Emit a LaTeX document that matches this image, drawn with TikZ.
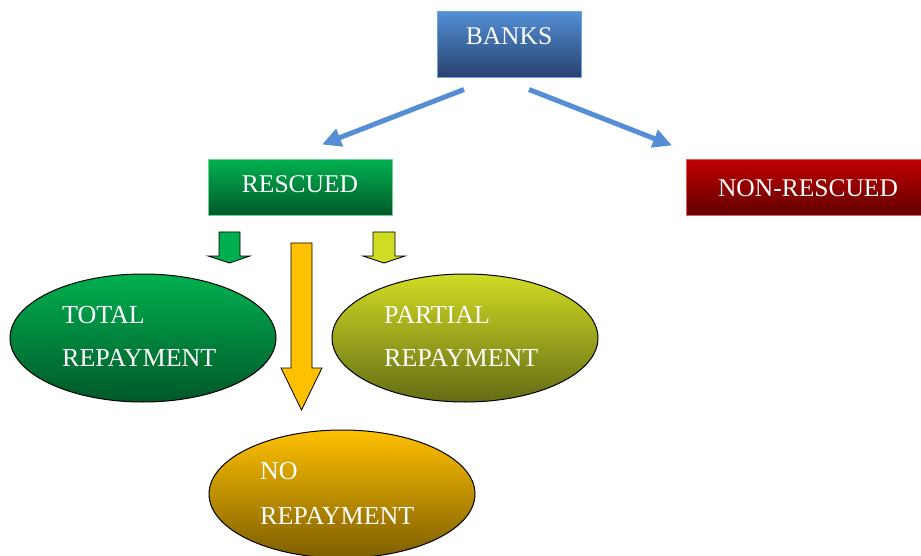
\documentclass[tikz,border=0pt]{standalone}
\usepackage{fontspec}
\setmainfont{Liberation Serif}
\usetikzlibrary{arrows.meta,shapes.geometric}
\definecolor{banktop}{RGB}{84,142,213}
\definecolor{bankbot}{RGB}{38,64,108}
\definecolor{bankline}{RGB}{110,160,225}
\definecolor{greentop}{RGB}{0,176,80}
\definecolor{greenbot}{RGB}{0,88,40}
\definecolor{greenline}{RGB}{110,210,150}
\definecolor{redtop}{RGB}{192,0,0}
\definecolor{redbot}{RGB}{96,0,0}
\definecolor{redline}{RGB}{230,90,90}
\definecolor{limetop}{RGB}{208,220,36}
\definecolor{limebot}{RGB}{100,108,20}
\definecolor{orangetop}{RGB}{255,192,0}
\definecolor{orangebot}{RGB}{125,94,0}
\definecolor{arrowblue}{RGB}{85,142,213}
\begin{document}
\begin{tikzpicture}[x=1pt,y=-1pt,
    box/.style={rectangle, minimum width=#1, minimum height=56pt, inner sep=0pt},
    boxtext/.style={text=white, font=\fontsize{25.5}{30}\selectfont},
    oval/.style={ellipse, draw=black, line width=1pt, minimum width=266pt,
        minimum height=128pt, inner sep=0pt},
    ovaltext/.style={anchor=base west, text=white, font=\fontsize{26}{30}\selectfont, inner sep=0pt},
    bluearrow/.style={draw=arrowblue, line width=5pt,
        -{Triangle[length=19pt,width=18pt]}},
    block/.style={draw=black, line width=0.8pt, line join=miter}]
    \useasboundingbox (0,0) rectangle (921,556);

    % top row
    \node[box=144pt, minimum height=66pt, top color=banktop, bottom color=bankbot,
        draw=bankline, line width=1pt] (banks) at (509,45) {};
    \node[boxtext] (bankstxt) at (509,36) {BANKS};
    \node[box=184pt, top color=greentop, bottom color=greenbot,
        draw=greenline, line width=1pt] (rescued) at (300,188) {};
    \node[boxtext] (rescuedtxt) at (300,184) {RESCUED};
    \node[box=240pt, top color=redtop, bottom color=redbot,
        draw=redline, line width=1pt] (nonrescued) at (806,188) {};
    \node[boxtext] (nonrescuedtxt) at (808,188) {NON-RESCUED};

    \draw[bluearrow] ([xshift=-45pt,yshift=-11pt]banks.south) -- ([xshift=22pt,yshift=15pt]rescued.north);
    \draw[bluearrow] ([xshift=20pt,yshift=-11pt]banks.south) -- ([xshift=-134pt,yshift=14pt]nonrescued.north);

    % outcomes
    \node[oval, top color=greentop, bottom color=greenbot] (total) at (143,338) {};
    \node[oval, top color=limetop, bottom color=limebot] (partial) at (465,338) {};
    \node[oval, top color=orangetop, bottom color=orangebot] (norepay) at (342,494) {};

    \node[ovaltext] (totala) at (62,323) {TOTAL};
    \node[ovaltext] (totalb) at (62,366) {REPAYMENT};
    \node[ovaltext] (partiala) at (384,323) {PARTIAL};
    \node[ovaltext] (partialb) at (384,366) {REPAYMENT};
    \node[ovaltext] (noa) at (260,479) {NO};
    \node[ovaltext] (nob) at (260,524) {REPAYMENT};

    % block arrows
    \draw[block, fill=greentop] (219,232) -- (240,232) -- (240,256) -- (250,256)
        -- (229.5,263) -- (208,256) -- (219,256) -- cycle;
    \draw[block, fill=limetop] (373,232) -- (395,232) -- (395,256) -- (405,256)
        -- (384,263) -- (363,256) -- (373,256) -- cycle;
    \draw[block, fill=orangetop] (291,243) -- (312,243) -- (312,368) -- (322,368)
        -- (301.5,410) -- (281,368) -- (291,368) -- cycle;
\end{tikzpicture}
\end{document}
